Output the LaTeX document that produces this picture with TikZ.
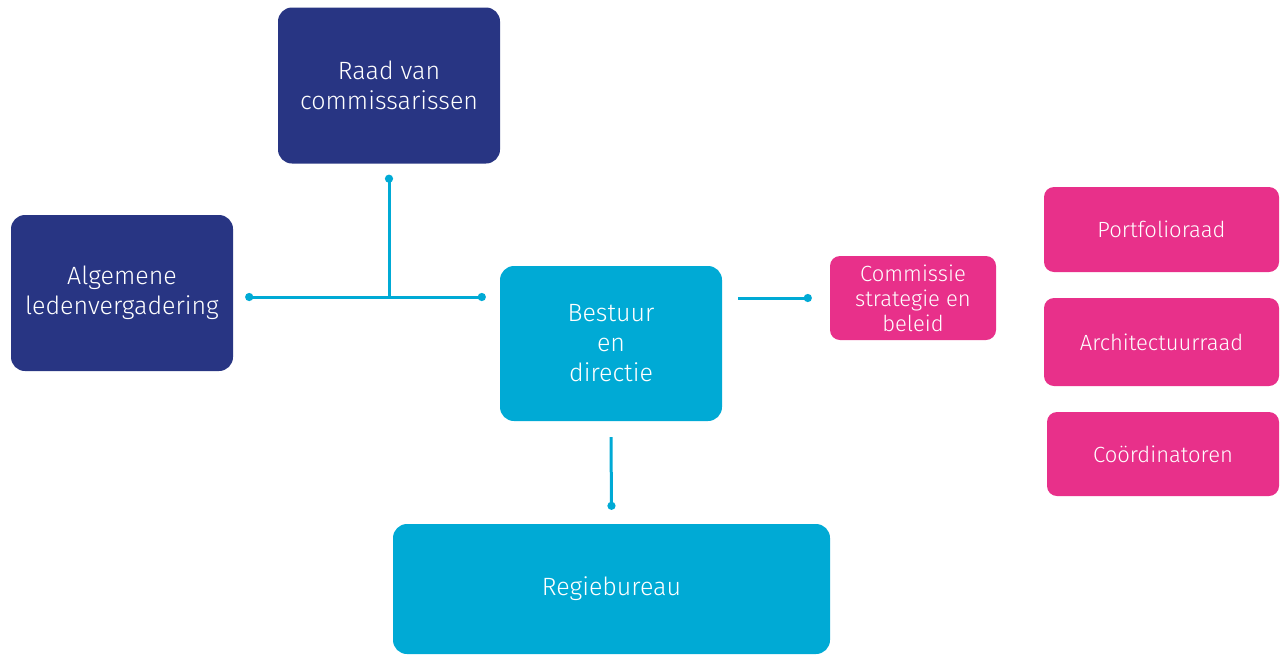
\documentclass[tikz,border=0pt]{standalone}
\usepackage{fontspec}
\setmainfont{Fira Sans Light}
\definecolor{OrgNavy}{HTML}{283583}
\definecolor{OrgCyan}{HTML}{00AAD5}
\definecolor{OrgPink}{HTML}{E8308A}
\usetikzlibrary{arrows.meta,positioning,calc}
\tikzset{
    % Rounded boxes
    unit/.style={
        rectangle,
        rounded corners=14pt,
        draw=none,
        text=white,
        align=center,
        inner sep=0pt,
        font=\fontsize{25}{30}\selectfont
    },
    unit navy/.style={
        unit,
        fill=OrgNavy
    },
    unit cyan/.style={
        unit,
        fill=OrgCyan
    },
    unit pink/.style={
        unit,
        fill=OrgPink,
        rounded corners=10pt,
        font=\fontsize{22}{25}\selectfont
    },
    link/.style={
        line width=3pt,
        color=OrgCyan
    },
    dot end/.style={
        link,
        -{Circle[length=8pt]}
    },
    dot both/.style={
        link,
        {Circle[length=8pt]}-{Circle[length=8pt]}
    }
}
\begin{document}
\begin{tikzpicture}[x=1pt, y=-1pt]
        \useasboundingbox (0,0) rectangle (1281,654);

        % Left and top
        \node[unit navy, minimum width=222pt, minimum height=156pt] (raad) at (389,85.5)
              {Raad van\\commissarissen};
        \node[unit navy, minimum width=222pt, minimum height=156pt] (alv) at (122,293)
              {Algemene\\ledenvergadering};

        % Centre
        \node[unit cyan, minimum width=222pt, minimum height=155pt] (bestuur) at (611,343.5)
              {Bestuur\\en\\directie};
        \node[unit cyan, minimum width=437pt, minimum height=130pt] (regie) at (611.5,589)
              {Regiebureau};

        % Right
        \node[unit pink, minimum width=166pt, minimum height=84pt] (commissie) at (913,298)
              {Commissie\\strategie en\\beleid};
        \node[unit pink, minimum width=235pt, minimum height=85pt] (portfolio) at (1161.5,229.5)
              {Portfolioraad};
        \node[unit pink, minimum width=235pt, minimum height=88pt] (architectuur) at (1161.5,342)
              {Architectuurraad};
        \node[unit pink, minimum width=232pt, minimum height=84pt] (coordinatoren) at (1163,454)
              {Coördinatoren};

        % Connector ends
        \coordinate (alv-e) at ($(alv.east)+(12,4)$);
        \coordinate (bestuur-w) at ($(bestuur.west)+(-14,-46.5)$);
        \coordinate (raad-s) at ($(raad.south)+(0,11)$);
        \coordinate (bestuur-e) at ($(bestuur.east)+(16,-45.5)$);
        \coordinate (commissie-w) at ($(commissie.west)+(-18,0)$);
        \coordinate (bestuur-s) at ($(bestuur.south)+(0,16)$);
        \coordinate (regie-n) at ($(regie.north)+(0,-14)$);

        % Lines
        \draw[dot both] (alv-e) -- (bestuur-w);
        \draw[dot end] (raad-s |- alv-e) -- (raad-s);
        \draw[dot end] (bestuur-e) -- (commissie-w);
        \draw[dot end] (bestuur-s) -- (regie-n);
\end{tikzpicture}
\end{document}
